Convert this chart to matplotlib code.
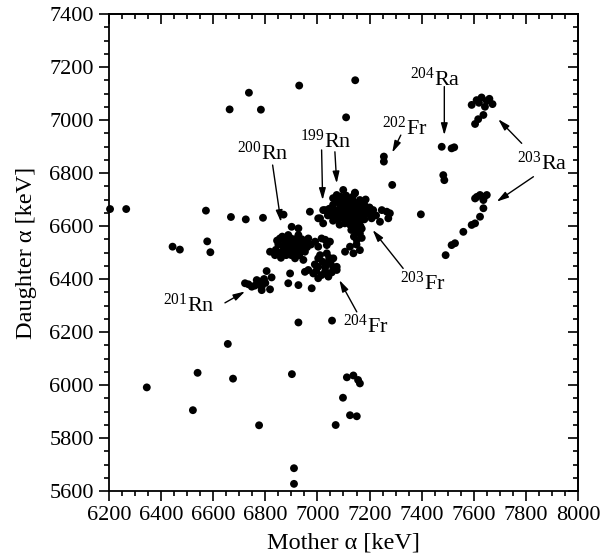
import numpy as np
import matplotlib
matplotlib.use("Agg")
import matplotlib.pyplot as plt
from matplotlib.ticker import MultipleLocator

plt.rcParams['font.family'] = ['Liberation Serif', 'DejaVu Serif']
plt.rcParams['mathtext.fontset'] = 'custom'
plt.rcParams['mathtext.rm'] = 'Liberation Serif'
plt.rcParams['mathtext.default'] = 'regular'

# scattered single events
iso_x = [6204, 6266, 6444, 6472, 6572, 6577, 6589, 6668, 6725, 6791, 6870,
         6663, 6737, 6783, 6930, 7110, 7145,
         6345, 6522, 6540, 6656, 6676, 6776, 6902, 6910, 6910, 6927, 7056,
         7070, 7098, 7113, 7138, 7156, 7163, 7125, 7151,
         6971, 6901, 6927, 7003, 7022, 7144]
iso_y = [6664, 6664, 6522, 6511, 6658, 6542, 6501, 6634, 6625, 6631, 6643,
         7040, 7103, 7039, 7130, 7010, 7150,
         5991, 5905, 6046, 6155, 6024, 5848, 6041, 5686, 5627, 6236, 6243,
         5849, 5952, 6029, 6036, 6019, 6006, 5886, 5882,
         6654, 6597, 6591, 6629, 6660, 6726]

# 199Rn / 203Fr main group
main_x = [7099, 7074, 7144, 7163, 7125, 7060, 7090, 7110, 7135,
          7029, 7010, 7022, 7048, 7040,
          7060, 7080, 7100, 7120, 7140, 7160, 7180,
          7065, 7085, 7105, 7125, 7145, 7165, 7185,
          7055, 7075, 7095, 7115, 7135, 7155, 7175, 7195,
          7060, 7080, 7100, 7120, 7140, 7160, 7180,
          7085, 7105, 7125, 7145, 7165, 7130, 7150, 7170,
          7214, 7247, 7278, 7272, 7240, 7208, 7225, 7200,
          7163, 7151, 7125, 7106, 7138, 7163, 7150, 7170, 7140,
          7090, 7110, 7130, 7150, 7170, 7070, 7090, 7110, 7130, 7150, 7170,
          7110, 7130, 7090, 7150, 7110, 7130, 7150, 7140, 7160, 7045, 7070,
          7185, 7200]
main_y = [6736, 6717, 6723, 6698, 6698, 6705, 6710, 6715, 6710,
          6660, 6629, 6610, 6648, 6640,
          6680, 6690, 6695, 6690, 6690, 6685, 6680,
          6660, 6665, 6670, 6670, 6668, 6665, 6660,
          6640, 6645, 6650, 6650, 6648, 6645, 6640, 6645,
          6620, 6625, 6630, 6630, 6625, 6620, 6625,
          6605, 6610, 6605, 6600, 6600, 6585, 6580, 6590,
          6660, 6660, 6648, 6629, 6616, 6629, 6640, 6650,
          6572, 6547, 6522, 6503, 6497, 6509, 6530, 6555, 6560,
          6675, 6680, 6680, 6675, 6670, 6655, 6655, 6660, 6658, 6655, 6650,
          6640, 6638, 6635, 6635, 6620, 6615, 6610, 6595, 6615, 6665, 6700,
          6700, 6670]

# 200Rn group
rn200_x = [6856, 6888, 6927, 6965, 6991, 6818, 6837, 6875, 6914, 6952, 6914,
           6946, 6888, 6927, 6952, 6870, 6900, 6935, 6960, 6850, 6880, 6910,
           6940, 6900, 6860, 6930, 6975, 7016, 7048, 7036, 7003, 7030,
           6840, 6860, 6880, 6905, 6925, 6945, 6890, 6915, 6875, 6900, 6925,
           6955, 6865, 6895, 6845]
rn200_y = [6553, 6566, 6566, 6553, 6541, 6503, 6490, 6503, 6509, 6503, 6478,
           6472, 6535, 6535, 6528, 6520, 6520, 6515, 6520, 6530, 6550, 6550,
           6550, 6490, 6480, 6490, 6530, 6553, 6541, 6528, 6522, 6548,
           6510, 6500, 6490, 6500, 6505, 6520, 6510, 6525, 6540, 6540, 6550,
           6540, 6560, 6555, 6545]

# 204Fr group
fr204_x = [7003, 7036, 7061, 7074, 7074, 7036, 7003, 6965, 6984, 7016, 7042,
           7003, 6952, 7020, 7050, 7030, 7055, 6990, 6895, 6888, 6927, 6978,
           7010, 7045, 6995, 7030, 7060]
fr204_y = [6478, 6497, 6478, 6446, 6434, 6459, 6446, 6434, 6421, 6415, 6409,
           6403, 6427, 6465, 6460, 6430, 6425, 6455, 6421, 6384, 6377, 6365,
           6490, 6480, 6430, 6445, 6445]

# 201Rn group
rn201_x = [6722, 6748, 6780, 6805, 6824, 6818, 6786, 6767, 6786, 6760, 6800,
           6735, 6795]
rn201_y = [6384, 6371, 6390, 6430, 6406, 6361, 6358, 6396, 6371, 6375, 6385,
           6380, 6400]

# 202Fr, 204Ra, 203Ra
right_x = [7255, 7255, 7287, 7266, 7397,
           7477, 7515, 7525, 7483, 7487,
           7592, 7611, 7630, 7650, 7672, 7643, 7637, 7617, 7605, 7620, 7660,
           7605, 7624, 7650, 7637, 7637, 7624, 7605, 7592, 7560, 7528, 7515,
           7492, 7640, 7612]
right_y = [6862, 6843, 6755, 6654, 6644,
           6899, 6893, 6897, 6792, 6773,
           7057, 7075, 7085, 7072, 7060, 7050, 7019, 7003, 6985, 7065, 7080,
           6704, 6717, 6717, 6698, 6667, 6635, 6610, 6604, 6578, 6535, 6528,
           6490, 6710, 6710]

# labels: text, text anchor, arrow tails, arrow tips
lab_text = [r'$^{200}$Rn', r'$^{199}$Rn', r'$^{202}$Fr', r'$^{204}$Ra',
            r'$^{203}$Ra', r'$^{203}$Fr', r'$^{204}$Fr', r'$^{201}$Rn']
lab_xy = [(6691, 6849), (6933, 6894), (7247, 6943), (7355, 7128),
          (7765, 6811), (7317, 6358), (7098, 6196), (6407, 6276)]
arrows = [((6828, 6830), (6860, 6615)),
          ((7016, 6887), (7020, 6698)),
          ((7067, 6880), (7074, 6761)),
          ((7320, 6943), (7287, 6877)),
          ((7487, 7126), (7487, 6943)),
          ((7784, 6912), (7694, 7003)),
          ((7829, 6786), (7688, 6692)),
          ((7329, 6440), (7212, 6585)),
          ((7151, 6276), (7084, 6396)),
          ((6645, 6310), (6722, 6353))]

fig = plt.figure(figsize=(6.1, 5.6), dpi=100)
ax = fig.add_axes([0.1787, 0.1232, 0.7688, 0.8518])

xs = iso_x + main_x + rn200_x + fr204_x + rn201_x + right_x
ys = iso_y + main_y + rn200_y + fr204_y + rn201_y + right_y
ax.scatter(xs, ys, s=32, c='k', edgecolors='none', clip_on=False, zorder=3)

for t, (tx, ty) in zip(lab_text, lab_xy):
    ax.text(tx, ty, t, fontsize=16, ha='left', va='baseline')
for (a, b) in arrows:
    ax.annotate('', xy=b, xytext=a,
                arrowprops=dict(arrowstyle='-|>,head_length=0.7,head_width=0.2',
                                lw=1.0, color='k', shrinkA=0, shrinkB=0))

ax.set_xlim(6200, 8000)
ax.set_ylim(5600, 7400)
ax.xaxis.set_major_locator(MultipleLocator(200))
ax.xaxis.set_minor_locator(MultipleLocator(50))
ax.yaxis.set_major_locator(MultipleLocator(200))
ax.yaxis.set_minor_locator(MultipleLocator(50))
ax.tick_params(which='both', direction='out', width=1.2, labelsize=16,
               top=False, right=False)
ax.tick_params(which='major', length=7, pad=4)
ax.tick_params(which='minor', length=3.5)
for sp in ax.spines.values():
    sp.set_linewidth(1.3)

top = ax.secondary_xaxis('top')
top.xaxis.set_major_locator(MultipleLocator(200))
top.xaxis.set_minor_locator(MultipleLocator(50))
right = ax.secondary_yaxis('right')
right.yaxis.set_major_locator(MultipleLocator(200))
right.yaxis.set_minor_locator(MultipleLocator(50))
for sec in (top, right):
    sec.tick_params(which='both', direction='in', width=1.2, labelleft=False,
                    labelright=False, labeltop=False, labelbottom=False)
    sec.tick_params(which='major', length=7)
    sec.tick_params(which='minor', length=3.5)
    for sp in sec.spines.values():
        sp.set_linewidth(1.3)

ax.set_xlabel('Mother α [keV]', fontsize=17.5, labelpad=5)
ax.set_ylabel('Daughter α [keV]', fontsize=17.5, labelpad=9)

fig.savefig('out.png', dpi=100)
